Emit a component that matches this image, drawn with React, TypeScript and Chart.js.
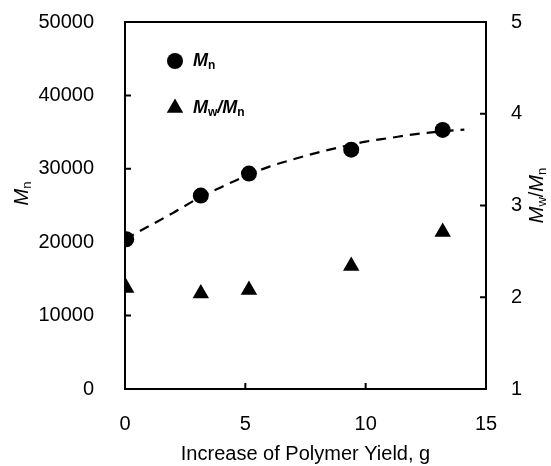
import React, { useEffect, useRef } from "react";
import { Chart, registerables } from "chart.js";

Chart.register(...registerables);

// Data
const yieldX = [0.05, 3.15, 5.15, 9.4, 13.2];
const mnValues = [20400, 26350, 29350, 32600, 35300];
const mwmnValues = [2.1, 2.04, 2.08, 2.34, 2.71];
const fitX = [0, 1, 2, 3, 4, 5, 6, 7, 8, 9, 10, 11, 12, 13, 14.1];
const fitY = [20400, 22200, 24000, 25900, 27500, 29000, 30300, 31300, 32200, 33000, 33700, 34200, 34700, 35050, 35350];
const xTicks = [0, 5, 10, 15];
const yTicks = [0, 10000, 20000, 30000, 40000, 50000];
const y2Ticks = [1, 2, 3, 4, 5];

const FONT = "'Liberation Sans', Arial, sans-serif";

type Part = { t: string; sub?: boolean; italic?: boolean; bold?: boolean };

function drawParts(ctx: CanvasRenderingContext2D, parts: Part[], x: number, y: number, size: number) {
  let cx = x;
  for (const p of parts) {
    const s = p.sub ? Math.round(size * 0.65) : size;
    ctx.font = `${p.italic ? "italic " : ""}${p.bold ? "bold " : ""}${s}px ${FONT}`;
    ctx.fillText(p.t, cx, p.sub ? y + size * 0.28 : y);
    cx += ctx.measureText(p.t).width;
  }
  return cx - x;
}
function measureParts(ctx: CanvasRenderingContext2D, parts: Part[], size: number) {
  let w = 0;
  for (const p of parts) {
    const s = p.sub ? Math.round(size * 0.65) : size;
    ctx.font = `${p.italic ? "italic " : ""}${p.bold ? "bold " : ""}${s}px ${FONT}`;
    w += ctx.measureText(p.t).width;
  }
  return w;
}

const decorPlugin = {
  id: "decor",
  afterDraw(chart: any) {
    const { ctx, chartArea } = chart;
    const { left, right, top, bottom } = chartArea;
    const xs = chart.scales.x, ys = chart.scales.y, y2 = chart.scales.y2;
    ctx.save();
    ctx.strokeStyle = "#000";
    ctx.fillStyle = "#000";
    ctx.lineWidth = 2;
    ctx.lineCap = "square";
    ctx.beginPath();
    ctx.moveTo(left, top);
    ctx.lineTo(right, top);
    ctx.lineTo(right, bottom);
    ctx.lineTo(left, bottom);
    ctx.closePath();
    ctx.stroke();
    ctx.lineCap = "butt";
    const tl = 6;
    ctx.beginPath();
    for (const v of yTicks) {
      const py = ys.getPixelForValue(v);
      ctx.moveTo(left, py);
      ctx.lineTo(left + tl, py);
    }
    for (const v of y2Ticks) {
      const py = y2.getPixelForValue(v);
      ctx.moveTo(right, py);
      ctx.lineTo(right - tl, py);
    }
    for (const v of xTicks) {
      const px = xs.getPixelForValue(v);
      ctx.moveTo(px, bottom);
      ctx.lineTo(px, bottom - tl);
    }
    ctx.stroke();

    ctx.textBaseline = "middle";
    ctx.textAlign = "left";
    // left axis title
    const leftTitle: Part[] = [{ t: "M", italic: true }, { t: "n", sub: true }];
    ctx.save();
    ctx.translate(22, (top + bottom) / 2 - 12);
    ctx.rotate(-Math.PI / 2);
    const lw = measureParts(ctx, leftTitle, 20);
    drawParts(ctx, leftTitle, -lw / 2, 0, 20);
    ctx.restore();
    // right axis title
    const rightTitle: Part[] = [
      { t: "M", italic: true },
      { t: "w", sub: true },
      { t: "/" },
      { t: "M", italic: true },
      { t: "n", sub: true },
    ];
    ctx.save();
    ctx.translate(537, (top + bottom) / 2 - 10);
    ctx.rotate(-Math.PI / 2);
    const rw = measureParts(ctx, rightTitle, 20);
    drawParts(ctx, rightTitle, -rw / 2, 0, 20);
    ctx.restore();

    // legend
    const lx = left + 50;
    const ly1 = top + 39;
    const ly2 = top + 86;
    ctx.beginPath();
    ctx.arc(lx, ly1, 8, 0, Math.PI * 2);
    ctx.fill();
    const r = 9.5;
    ctx.beginPath();
    ctx.moveTo(lx, ly2 - r);
    ctx.lineTo(lx + r * Math.sin((2 * Math.PI) / 3), ly2 - r * Math.cos((2 * Math.PI) / 3));
    ctx.lineTo(lx + r * Math.sin((4 * Math.PI) / 3), ly2 - r * Math.cos((4 * Math.PI) / 3));
    ctx.closePath();
    ctx.fill();
    drawParts(ctx, [{ t: "M", italic: true, bold: true }, { t: "n", sub: true, bold: true }], lx + 18, ly1, 18);
    drawParts(
      ctx,
      [
        { t: "M", italic: true, bold: true },
        { t: "w", sub: true, bold: true },
        { t: "/", italic: true, bold: true },
        { t: "M", italic: true, bold: true },
        { t: "n", sub: true, bold: true },
      ],
      lx + 18,
      ly2,
      18
    );
    ctx.restore();
  },
};

const plain = (v: any) => String(v);
const zeroPad = (s: any) => {
  s.paddingTop = 0;
  s.paddingBottom = 0;
  s.paddingLeft = 0;
  s.paddingRight = 0;
};

export default function App() {
  const ref = useRef<HTMLCanvasElement>(null);
  useEffect(() => {
    if (!ref.current) return;
    const chart = new Chart(ref.current, {
      type: "scatter",
      data: {
        datasets: [
          {
            label: "fit",
            data: fitX.map((x, i) => ({ x, y: fitY[i] })),
            showLine: true,
            pointRadius: 0,
            borderColor: "#000",
            borderWidth: 2.2,
            borderDash: [10, 7],
            cubicInterpolationMode: "monotone",
            yAxisID: "y",
            order: 3,
          } as any,
          {
            label: "Mn",
            data: yieldX.map((x, i) => ({ x, y: mnValues[i] })),
            pointStyle: "circle",
            pointRadius: 8,
            pointBackgroundColor: "#000",
            pointBorderColor: "#000",
            pointBorderWidth: 0,
            yAxisID: "y",
            order: 1,
          },
          {
            label: "Mw/Mn",
            data: yieldX.map((x, i) => ({ x, y: mwmnValues[i] })),
            pointStyle: "triangle",
            pointRadius: 9.5,
            pointBackgroundColor: "#000",
            pointBorderColor: "#000",
            pointBorderWidth: 0,
            yAxisID: "y2",
            order: 1,
          },
        ],
      },
      options: {
        animation: false,
        responsive: true,
        maintainAspectRatio: false,
        layout: { padding: { top: 22, left: 0, right: 0, bottom: 0 } },
        plugins: { legend: { display: false }, tooltip: { enabled: false } },
        scales: {
          x: {
            type: "linear",
            min: 0,
            max: 15,
            afterFit: (s: any) => {
              s.height = 77;
              zeroPad(s);
            },
            grid: { display: false },
            border: { display: false },
            ticks: { stepSize: 5, color: "#000", padding: 15, font: { family: FONT, size: 20 }, callback: plain },
            title: {
              display: true,
              text: "Increase of Polymer Yield, g",
              color: "#000",
              font: { family: FONT, size: 20 },
              padding: { top: 0, bottom: 0 },
            },
          },
          y: {
            type: "linear",
            position: "left",
            min: 0,
            max: 50000,
            afterFit: (s: any) => {
              s.width = 125;
              zeroPad(s);
            },
            grid: { display: false },
            border: { display: false },
            ticks: { stepSize: 10000, color: "#000", padding: 23, font: { family: FONT, size: 20 }, callback: plain },
          },
          y2: {
            type: "linear",
            position: "right",
            min: 1,
            max: 5,
            afterFit: (s: any) => {
              s.width = 65;
              zeroPad(s);
            },
            grid: { display: false },
            border: { display: false },
            ticks: { stepSize: 1, color: "#000", padding: 17, font: { family: FONT, size: 20 }, callback: plain },
          },
        },
      } as any,
      plugins: [decorPlugin],
    });
    return () => chart.destroy();
  }, []);
  return (
    <div style={{ position: "fixed", left: 0, top: 0, width: 551, height: 466, background: "#fff" }}>
      <canvas ref={ref} />
    </div>
  );
}
